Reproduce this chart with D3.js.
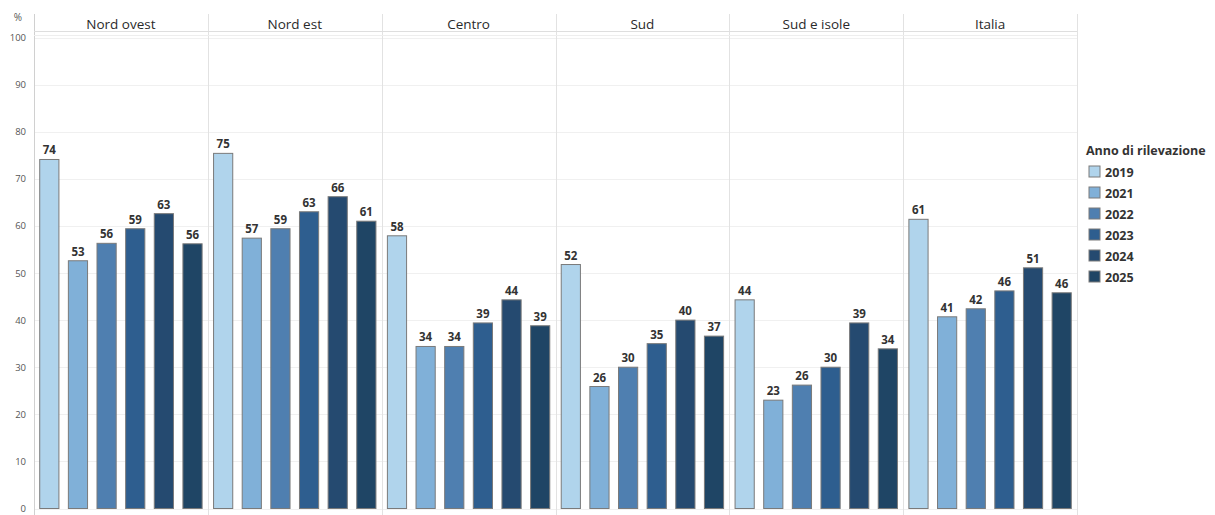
<!DOCTYPE html>
<html><head><meta charset="utf-8">
<script src="https://cdn.jsdelivr.net/npm/d3@7"></script>
<style>body{margin:0;background:#fff;}svg{display:block;font-family:"Open Sans",Lato,sans-serif;}</style>
</head><body><svg id="c" width="1215" height="515"></svg>
<script>
const regions = ["Nord ovest","Nord est","Centro","Sud","Sud e isole","Italia"];
const years = ["2019","2021","2022","2023","2024","2025"];
const v2019 = [74.1, 75.4, 57.9, 51.8, 44.3, 61.4];
const v2021 = [52.6, 57.4, 34.4, 25.9, 23.0, 40.7];
const v2022 = [56.3, 59.4, 34.4, 30.0, 26.2, 42.4];
const v2023 = [59.4, 63.0, 39.4, 35.0, 30.0, 46.2];
const v2024 = [62.6, 66.2, 44.3, 40.0, 39.4, 51.1];
const v2025 = [56.2, 61.0, 38.8, 36.6, 33.9, 45.8];
const yTicks = [0,10,20,30,40,50,60,70,80,90,100];
const colors = ["#b0d4ec","#80b0d8","#4f7fb0","#2e5e8f","#254a70","#1f4565"];
const seriesVals = [v2019,v2021,v2022,v2023,v2024,v2025];

const svg = d3.select("#c");
const mLeft = 34, mRight = 1077, mBottom = 508.5;
const fx = d3.scaleBand().domain(regions).range([mLeft,mRight]).padding(0);
const x = d3.scaleBand().domain(years).range([0,fx.bandwidth()]).paddingInner(0.33).paddingOuter(0.2);
const y = d3.scaleLinear().domain([0,100]).range([mBottom,37.5]);
const color = d3.scaleOrdinal().domain(years).range(colors);

// gridlines
svg.append("g").selectAll("line").data(yTicks).join("line")
  .attr("x1",mLeft).attr("x2",mRight).attr("y1",d=>Math.round(y(d))+0.5).attr("y2",d=>Math.round(y(d))+0.5)
  .attr("stroke","#f0f0f0").attr("stroke-width",1);

// panel separators
svg.append("g").selectAll("line").data(regions.map(r=>fx(r)).concat([mRight])).join("line")
  .attr("x1",d=>Math.round(d)+0.5).attr("x2",d=>Math.round(d)+0.5).attr("y1",14).attr("y2",515)
  .attr("stroke",(d,i)=>i===0?"#d0d0d0":"#e2e2e2").attr("stroke-width",1);
// header lines
svg.append("line").attr("x1",mLeft).attr("x2",mRight).attr("y1",31.5).attr("y2",31.5).attr("stroke","#dedede");
svg.append("line").attr("x1",mLeft).attr("x2",mRight).attr("y1",35.5).attr("y2",35.5).attr("stroke","#eeeeee");

// header labels
svg.append("g").selectAll("text").data(regions).join("text")
  .attr("x",d=>fx(d)+fx.bandwidth()/2).attr("y",28.5).attr("text-anchor","middle")
  .attr("font-size",13.5).attr("fill","#2a2a2a").text(d=>d);

// y axis
const yAxis = d3.axisLeft(y).tickValues(yTicks).tickSize(0).tickPadding(8);
const ga = svg.append("g").attr("transform",`translate(${mLeft},0)`).call(yAxis);
ga.select(".domain").remove();
ga.selectAll("text").attr("font-size",9.5).attr("fill","#555").attr("font-family","'Open Sans',sans-serif");
svg.append("text").attr("x",18).attr("y",21).attr("text-anchor","middle").attr("font-size",10).attr("fill","#555").text("%");

// bars
const data = [];
regions.forEach((r,ri)=>years.forEach((yr,yi)=>data.push({r,yr,v:seriesVals[yi][ri]})));
const g = svg.append("g");
g.selectAll("rect").data(data).join("rect")
  .attr("x",d=>fx(d.r)+x(d.yr)).attr("width",x.bandwidth())
  .attr("y",d=>y(d.v)).attr("height",d=>y(0)-y(d.v))
  .attr("fill",d=>color(d.yr)).attr("stroke","#7a7a7a").attr("stroke-width",1);
g.selectAll("text").data(data).join("text")
  .attr("x",d=>fx(d.r)+x(d.yr)+x.bandwidth()/2).attr("y",d=>y(d.v)-5)
  .attr("text-anchor","middle").attr("font-size",11.5).attr("font-weight","bold").attr("fill","#333")
  .text(d=>Math.round(d.v));

// legend
const lg = svg.append("g").attr("transform","translate(1086,0)");
lg.append("text").attr("x",0).attr("y",155).attr("font-size",12.5).attr("font-weight","bold").attr("fill","#333").text("Anno di rilevazione");
const li = lg.selectAll("g.it").data(years).join("g").attr("class","it")
  .attr("transform",(d,i)=>`translate(0,${172+i*21})`);
li.append("rect").attr("x",3).attr("y",-6).attr("width",11).attr("height",11)
  .attr("fill",d=>color(d)).attr("stroke","#7a7a7a");
li.append("text").attr("x",19).attr("y",4.5).attr("font-size",12.5).attr("font-weight","bold").attr("fill","#333").text(d=>d);
</script></body></html>
